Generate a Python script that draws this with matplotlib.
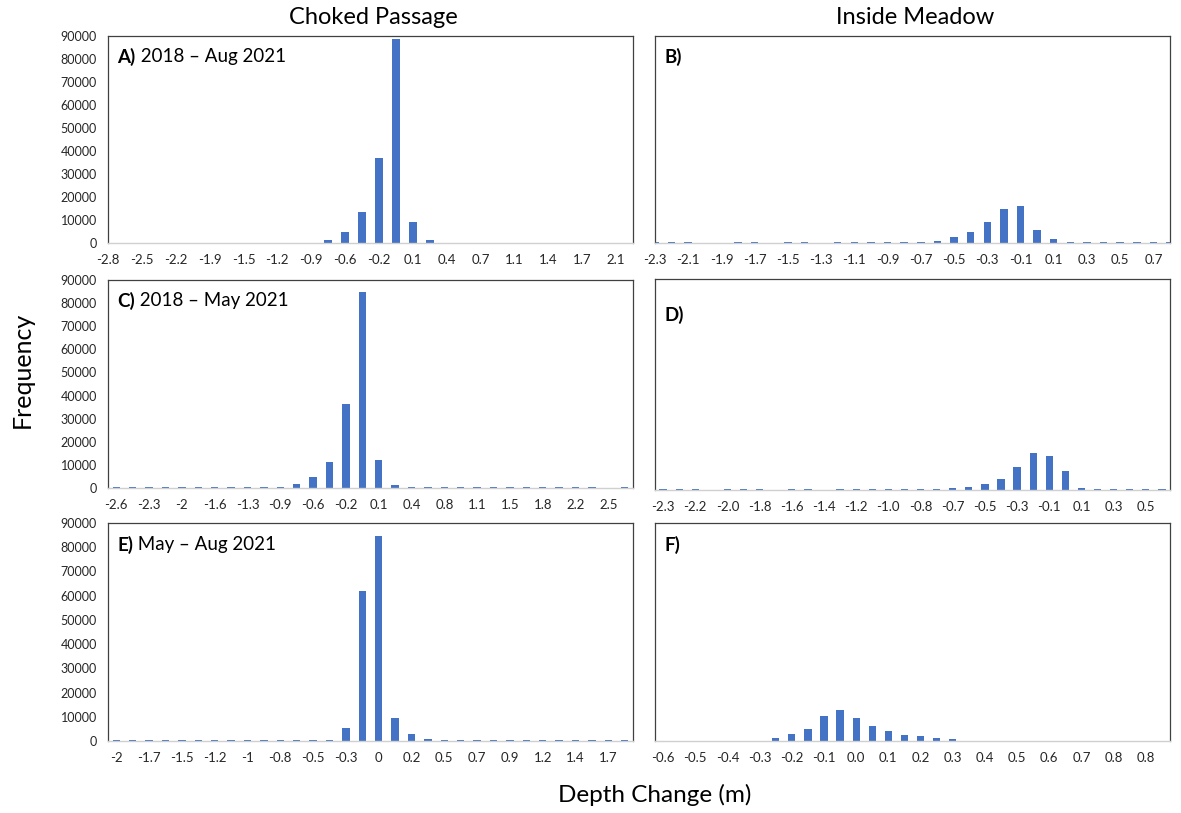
import matplotlib
matplotlib.use("Agg")
import matplotlib.pyplot as plt
import numpy as np

plt.rcParams["font.family"] = ["Lato", "DejaVu Sans"]

BAR_COLOR = "#4472C4"

# frequency per depth-change bin (32 bins per panel)
counts_a = [0] * 13 + [1400, 4900, 13300, 36900, 88500, 9300, 1300] + [0] * 12
counts_b = [300, 300, 300, 0, 0, 300, 300, 0, 300, 300, 0, 300, 300, 300, 300, 300,
            300, 900, 2500, 4800, 9300, 14800, 15900, 5800, 1900, 300, 300, 300, 300,
            300, 300, 300]
counts_c = [600] * 11 + [1900, 4600, 11200, 36400, 84700, 12000, 1150] + [600] * 12 + [0, 600]
counts_d = [300, 300, 300, 0, 300, 300, 300, 0, 300, 300, 0, 300, 300, 300, 300, 300,
            300, 300, 700, 1300, 2400, 4700, 9700, 15700, 14700, 7900, 700, 300, 300,
            300, 300, 300]
counts_e = [400] * 14 + [5500, 62000, 84600, 9400, 3000, 1000] + [400] * 12
counts_f = [0] * 7 + [1400, 3050, 5100, 10500, 12800, 9400, 6200, 4200, 2500, 1900,
                      1400, 800] + [0] * 13

# every other bin is labelled
labels_a = ["-2.8", "-2.5", "-2.2", "-1.9", "-1.5", "-1.2", "-0.9", "-0.6", "-0.2",
            "0.1", "0.4", "0.7", "1.1", "1.4", "1.7", "2.1"]
labels_b = ["-2.3", "-2.1", "-1.9", "-1.7", "-1.5", "-1.3", "-1.1", "-0.9", "-0.7",
            "-0.5", "-0.3", "-0.1", "0.1", "0.3", "0.5", "0.7"]
labels_c = ["-2.6", "-2.3", "-2", "-1.6", "-1.3", "-0.9", "-0.6", "-0.2", "0.1",
            "0.4", "0.8", "1.1", "1.5", "1.8", "2.2", "2.5"]
labels_d = ["-2.3", "-2.2", "-2.0", "-1.8", "-1.6", "-1.4", "-1.2", "-1.0", "-0.8",
            "-0.7", "-0.5", "-0.3", "-0.1", "0.1", "0.3", "0.5"]
labels_e = ["-2", "-1.7", "-1.5", "-1.2", "-1", "-0.8", "-0.5", "-0.3", "0", "0.2",
            "0.5", "0.7", "0.9", "1.2", "1.4", "1.7"]
labels_f = ["-0.6", "-0.5", "-0.4", "-0.3", "-0.2", "-0.1", "0.0", "0.1", "0.2", "0.3",
            "0.4", "0.5", "0.6", "0.7", "0.8", "0.8"]

y_ticks = list(range(0, 90001, 10000))


def draw_panel(ax, counts, labels, tag, period, on_ticks, show_y, tag_y=0.90):
    pos = np.arange(len(counts))
    ax.bar(pos, counts, width=0.45, color=BAR_COLOR)
    if on_ticks:
        ax.set_xlim(0, len(counts) - 1)
    else:
        ax.set_xlim(-0.5, len(counts) - 0.5)
    ax.set_ylim(0, 90000)
    ax.set_xticks(pos[::2])
    ax.set_xticklabels(labels, fontsize=9.5, color="#262626")
    ax.tick_params(axis="x", length=0, pad=8)
    if show_y:
        ax.set_yticks(y_ticks)
        ax.set_yticklabels([str(v) for v in y_ticks], fontsize=9, color="#262626")
        ax.tick_params(axis="y", length=0, pad=8)
    else:
        ax.set_yticks([])
    for side in ["top", "right", "left"]:
        ax.spines[side].set_color("#404040")
        ax.spines[side].set_linewidth(0.9)
    ax.spines["bottom"].set_color("#D0D0D0")
    ax.spines["bottom"].set_linewidth(1.0)

    t = ax.text(0.018, tag_y, tag, transform=ax.transAxes, fontsize=13.5,
                fontweight="bold", va="center", ha="left")
    if period:
        ax.annotate(" " + period, xy=(1.0, 0.5), xycoords=t, fontsize=13.5,
                    va="center", ha="left")


fig = plt.figure(figsize=(11.81, 8.13), dpi=100)

W, H = 1181.0, 813.0


def box(x0, x1, y0, y1):
    return [x0 / W, 1 - y1 / H, (x1 - x0) / W, (y1 - y0) / H]


ax_a = fig.add_axes(box(108, 633, 36, 243))
ax_b = fig.add_axes(box(655, 1170, 36, 243))
ax_c = fig.add_axes(box(108, 633, 280, 488))
ax_d = fig.add_axes(box(655, 1170, 279, 490))
ax_e = fig.add_axes(box(108, 633, 523, 741))
ax_f = fig.add_axes(box(655, 1170, 523, 741))

draw_panel(ax_a, counts_a, labels_a, "A)", "2018 – Aug 2021", True, True)
draw_panel(ax_b, counts_b, labels_b, "B)", "", True, False)
draw_panel(ax_c, counts_c, labels_c, "C)", "2018 – May 2021", False, True)
draw_panel(ax_d, counts_d, labels_d, "D)", "", False, False, tag_y=0.83)
draw_panel(ax_e, counts_e, labels_e, "E)", "May – Aug 2021", False, True)
draw_panel(ax_f, counts_f, labels_f, "F)", "", False, False)

fig.text(373 / W, 1 - 18 / H, "Choked Passage", fontsize=17, ha="center", va="center")
fig.text(915 / W, 1 - 18 / H, "Inside Meadow", fontsize=17, ha="center", va="center")
fig.text(22 / W, 1 - 370 / H, "Frequency", fontsize=18, rotation=90,
         ha="center", va="center")
fig.text(655 / W, 1 - 795 / H, "Depth Change (m)", fontsize=17.5, ha="center", va="center")

fig.savefig("out.png", dpi=100)
plt.close(fig)
